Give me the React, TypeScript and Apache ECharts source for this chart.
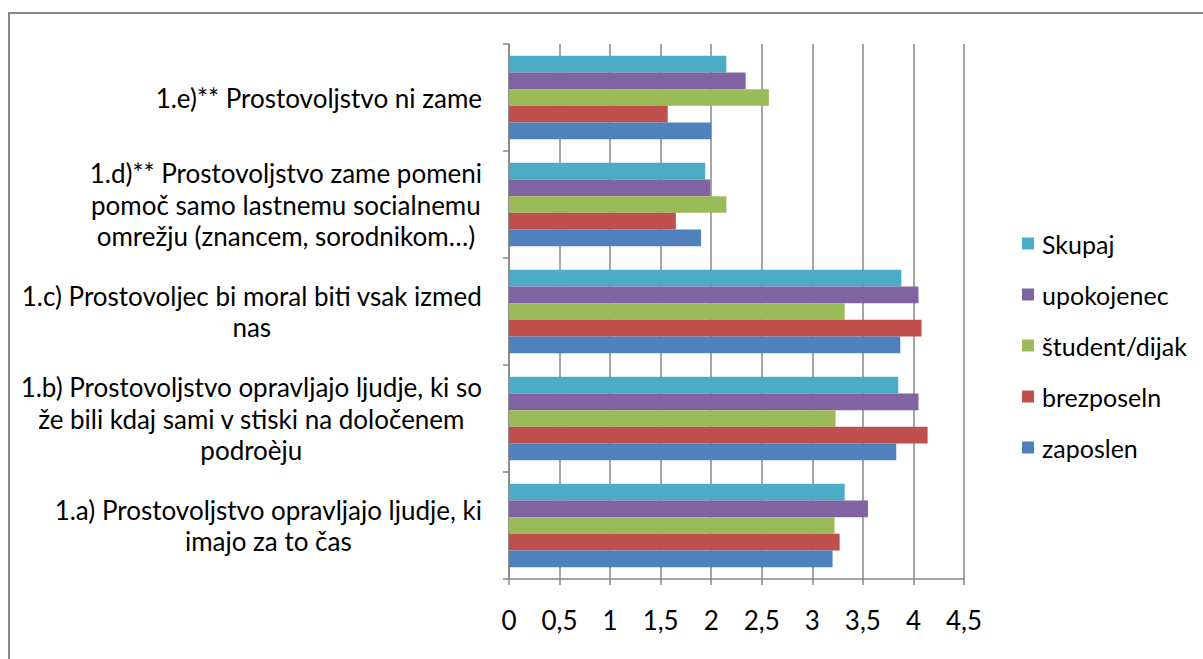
import React, { useEffect, useRef } from "react";
import * as echarts from "echarts";

const categories = [
  "1.a) Prostovoljstvo opravljajo ljudje, ki\nimajo za to čas",
  "1.b) Prostovoljstvo opravljajo ljudje, ki so\nže bili kdaj sami v stiski na določenem\npodroèju",
  "1.c) Prostovoljec bi moral biti vsak izmed\nnas",
  "1.d)** Prostovoljstvo zame pomeni\npomoč samo lastnemu socialnemu\nomrežju (znancem, sorodnikom…)",
  "1.e)** Prostovoljstvo ni zame",
];

// series listed top-to-bottom within each category group
const seriesNames = ["Skupaj", "upokojenec", "študent/dijak", "brezposeln", "zaposlen"];
const skupaj = [3.32, 3.85, 3.88, 1.94, 2.15];
const upokojenec = [3.55, 4.05, 4.05, 1.99, 2.34];
const student = [3.22, 3.23, 3.32, 2.15, 2.57];
const brezposeln = [3.27, 4.14, 4.08, 1.65, 1.57];
const zaposlen = [3.2, 3.83, 3.87, 1.9, 2.0];
const colors = ["#4BACC6", "#8064A2", "#9BBB59", "#C0504D", "#4F81BD"];

const FONT = "Lato";
const FS = 26;

export default function App() {
  const ref = useRef<HTMLDivElement>(null);
  useEffect(() => {
    if (!ref.current) return;
    const chart = echarts.init(ref.current, null, { renderer: "svg" });
    const values = [skupaj, upokojenec, student, brezposeln, zaposlen];
    chart.setOption({
      animation: false,
      backgroundColor: "#ffffff",
      textStyle: { fontFamily: FONT },
      graphic: [
        {
          type: "rect",
          shape: { x: 9, y: 13, width: 1300, height: 700 },
          style: { fill: "none", stroke: "#8a8a8a", lineWidth: 2 },
          silent: true,
        },
      ],
      grid: { left: 509, right: 239, top: 44, bottom: 80, containLabel: false },
      legend: {
        data: seriesNames,
        orient: "vertical",
        left: 1022,
        top: 231,
        padding: 0,
        itemWidth: 12,
        itemHeight: 12,
        itemGap: 26,
        icon: "rect",
        textStyle: { fontFamily: FONT, fontSize: 25, color: "#000", lineHeight: 22, padding: [0, 0, 0, 3] },
      },
      xAxis: {
        type: "value",
        min: 0,
        max: 4.5,
        interval: 0.5,
        axisLine: { show: true, lineStyle: { color: "#878787", width: 1.5 } },
        axisTick: { show: true, length: 6, lineStyle: { color: "#878787", width: 1.5 } },
        splitLine: { show: true, lineStyle: { color: "#878787", width: 1.5 } },
        axisLabel: {
          margin: 28,
          fontFamily: FONT,
          fontSize: FS,
          color: "#000",
          formatter: (v: number) => String(v).replace(".", ","),
        },
      },
      yAxis: {
        type: "category",
        data: categories,
        axisLine: { show: true, lineStyle: { color: "#878787", width: 1.5 } },
        axisTick: { show: true, length: 6, lineStyle: { color: "#878787", width: 1.5 } },
        splitLine: { show: false },
        axisLabel: {
          margin: 27,
          formatter: (v: string) => v.split("\n").map((l) => `{c|${l}}`).join("\n"),
          rich: {
            c: { align: "center", fontFamily: FONT, fontSize: FS, lineHeight: 31.5, color: "#000" },
          },
        },
      },
      series: seriesNames.map((name, i) => ({
        name,
        type: "bar",
        data: values[i],
        barGap: "0%",
        barCategoryGap: "22%",
        itemStyle: { color: colors[i] },
      })),
    });
    return () => chart.dispose();
  }, []);
  return (
    <div
      ref={ref}
      style={{ position: "absolute", left: 0, top: 0, width: 1203, height: 659, background: "#fff" }}
    />
  );
}
